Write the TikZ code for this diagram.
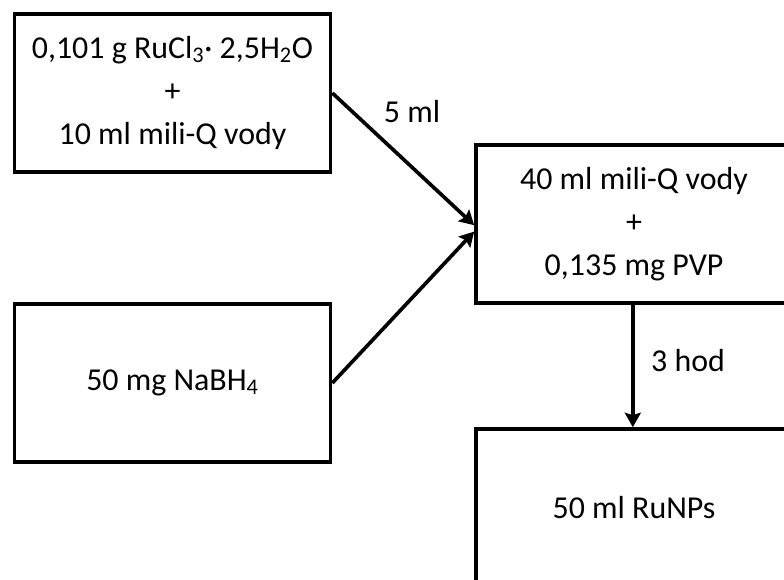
\documentclass[tikz,border=0pt]{standalone}
\usepackage{fontspec}
\setmainfont{Carlito}
\usetikzlibrary{
    arrows.meta,
    positioning
}

\begin{document}
\begin{tikzpicture}[
        box/.style={draw, line width=2.6pt, minimum width=7.9cm, minimum height=3.95cm, align=center, inner sep=0pt},
        flow/.style={line width=2.6pt, -{Stealth[length=0.36cm, width=0.4cm, inset=0.06cm]}},
        every node/.append style={font=\fontsize{22.7}{30.6}\selectfont}
    ]
    \useasboundingbox (0, 0) rectangle (19.6, -14.5);
    \clip (0, 0) rectangle (19.6, -14.5);
    \node[box] (rucl) at (4.3125, -2.325) {0,101 g RuCl\textsubscript{3}· 2,5H\textsubscript{2}O\\+\\10 ml mili-Q vody};
    \node[box] (nabh) at (4.3125, -9.575) {50 mg NaBH\textsubscript{4}};
    \node[box] (pvp) at (15.85, -5.6) {40 ml mili-Q vody\\+\\0,135 mg PVP};
    \node[box] (runp) at (15.85, -12.7) {50 ml RuNPs};
    \node (vol) at (10.3, -2.8) {5 ml};
    \node (time) at (17.2, -9.025) {3 hod};
    \draw
    (rucl.east) edge[flow] ([yshift=-0.03cm]pvp.west)
    (nabh.east) edge[flow] ([yshift=-0.19cm]pvp.west)
    ([xshift=-0.03cm]pvp.south) edge[flow] ([xshift=-0.03cm]runp.north);
\end{tikzpicture}
\end{document}
